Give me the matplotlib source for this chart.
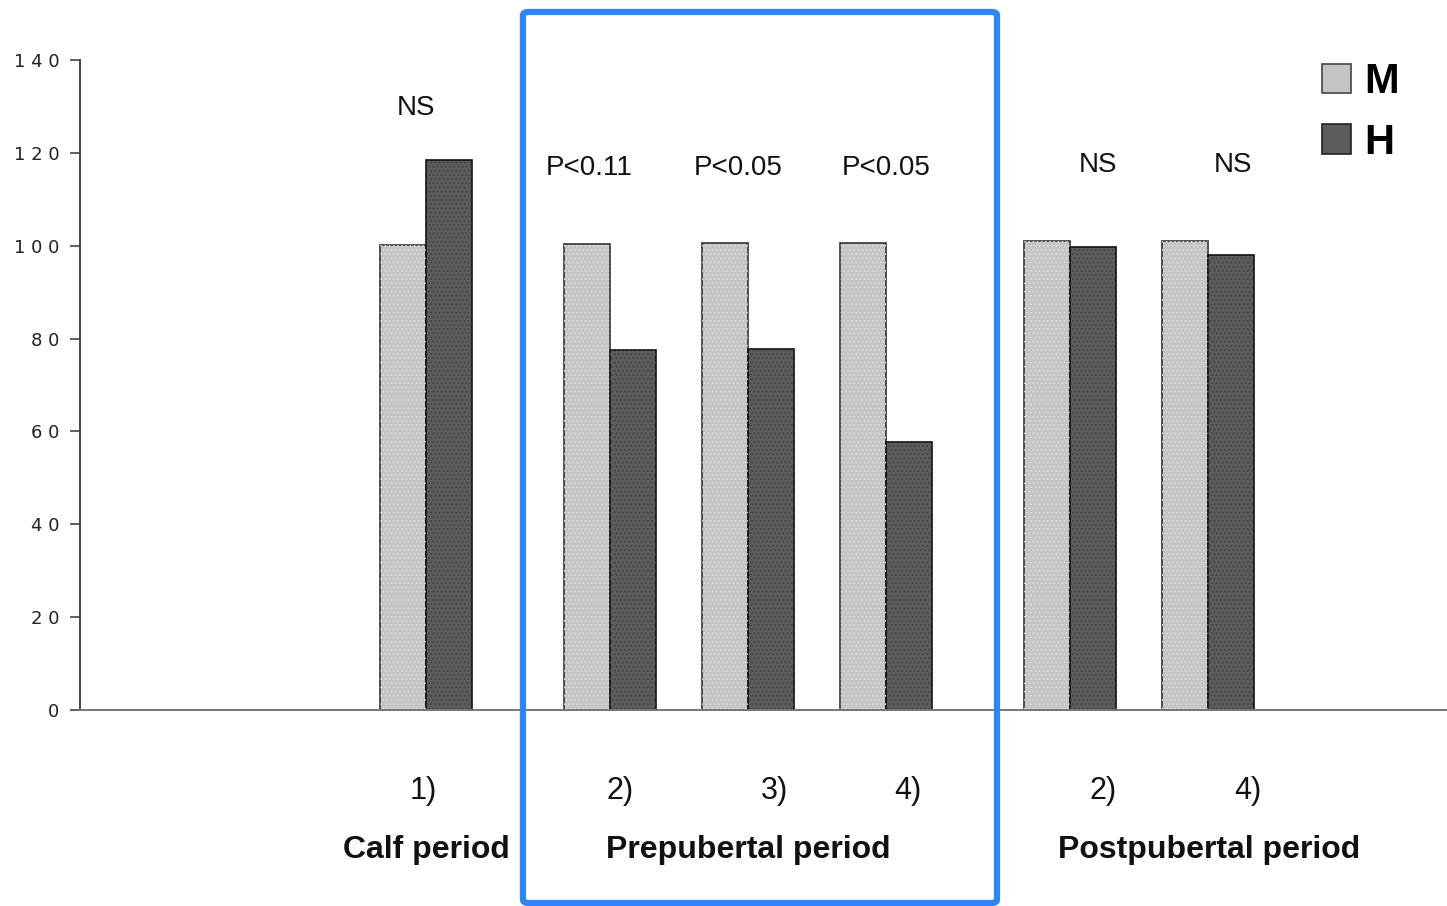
import matplotlib.pyplot as plt
from matplotlib.patches import FancyBboxPatch

# group labels and values (M = light bars, H = dark bars)
test_labels = ['1)', '2)', '3)', '4)', '2)', '4)']
periods = ['Calf period', 'Prepubertal period', 'Postpubertal period']
period_groups = [[0], [1, 2, 3], [4, 5]]
m_vals = [100.2, 100.4, 100.5, 100.5, 101.0, 101.0]
h_vals = [118.5, 77.5, 77.7, 57.7, 99.8, 98.0]
signif = ['NS', 'P<0.11', 'P<0.05', 'P<0.05', 'NS', 'NS']

# layout: group centres (a third of a slot extra between periods)
xpos = [0, 4 / 3, 7 / 3, 10 / 3, 14 / 3, 17 / 3]
width = 1 / 3
sig_dx = [-0.07, -0.15, -0.07, 0.0, 0.2, 0.18]
sig_y = [129.7, 116.8, 116.8, 116.8, 117.5, 117.5]
lab_dx = [-0.02, 0.07, 0.19, 0.16, 0.24, 0.29]
period_dx = [0.0, 0.0, 0.51]

fig = plt.figure(figsize=(14.47, 9.06), dpi=100)
ax = fig.add_axes([0.0553, 0.2163, 0.9447, 0.7174])

m_col, h_col = '#c4c4c4', '#5c5c5c'
mx = [x - width / 2 for x in xpos]
hx = [x + width / 2 for x in xpos]
ax.bar(mx, m_vals, width, color=m_col, edgecolor='#333333', linewidth=1.2)
ax.bar(hx, h_vals, width, color=h_col, edgecolor='#111111', linewidth=1.2)
# halftone-like dot texture
plt.rcParams['hatch.linewidth'] = 0.6
ax.bar(mx, m_vals, width, color='none', edgecolor='#e2e2e2', linewidth=0, hatch='....')
ax.bar(hx, h_vals, width, color='none', edgecolor='#3c3c3c', linewidth=0, hatch='....')

ax.set_xlim(-2.507, 7.399)
ax.set_ylim(0, 140)
ax.set_yticks(range(0, 141, 20))
ax.set_yticklabels([' '.join(str(v)) for v in range(0, 141, 20)],
                   fontsize=13, family='DejaVu Sans', color='#222222')
ax.tick_params(axis='y', direction='out', length=7, width=1.2, color='#444444', pad=8)
ax.set_xticks([])
for s in ['top', 'right']:
    ax.spines[s].set_visible(False)
ax.spines['left'].set_color('#444444')
ax.spines['left'].set_linewidth(1.4)
ax.spines['bottom'].set_color('#777777')
ax.spines['bottom'].set_linewidth(1.4)

for i, x in enumerate(xpos):
    ax.text(x + sig_dx[i], sig_y[i], signif[i], ha='center', va='center',
            fontsize=20, family='Liberation Sans', color='#111111')
    ax.text(x + lab_dx[i], -17.5, test_labels[i], ha='center', va='center',
            fontsize=22, family='Liberation Sans', color='#111111', clip_on=False)

for name, idx, dx in zip(periods, period_groups, period_dx):
    xc = sum(xpos[i] for i in idx) / len(idx) + dx
    ax.text(xc, -30.2, name, ha='center', va='center', fontsize=23,
            fontweight='bold', family='Liberation Sans', color='#111111', clip_on=False)

# legend
handles = [
    plt.Rectangle((0, 0), 1, 1, facecolor=m_col, edgecolor='#444444', linewidth=1.2),
    plt.Rectangle((0, 0), 1, 1, facecolor=h_col, edgecolor='#222222', linewidth=1.2)]
ax.legend(handles=handles, labels=['M', 'H'],
          loc='upper right', bbox_to_anchor=(0.992, 1.055), frameon=False,
          prop={'family': 'Liberation Sans', 'weight': 'bold', 'size': 30},
          handlelength=0.7, handleheight=0.7, handletextpad=0.3, labelspacing=0.5)

# highlight box around the prepubertal period
box = FancyBboxPatch((0.3614, 0.0033), 0.3276, 0.9835, boxstyle='round,pad=0,rounding_size=0.004',
                     transform=fig.transFigure, fill=False, edgecolor='#2f85f7',
                     linewidth=4.5, clip_on=False)
fig.patches.append(box)

fig.savefig('out.png', dpi=100)
